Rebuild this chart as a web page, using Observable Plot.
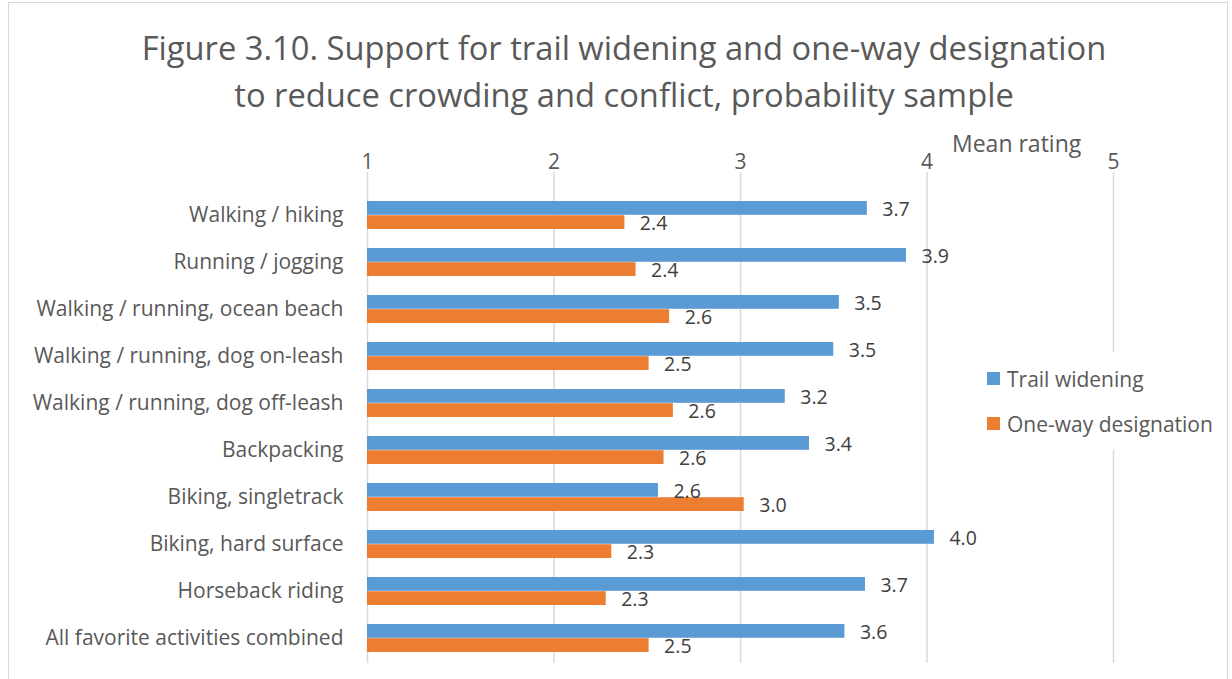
<!DOCTYPE html>
<html>
<head>
<meta charset="utf-8">
<script src="https://cdn.jsdelivr.net/npm/d3@7"></script>
<script src="https://cdn.jsdelivr.net/npm/@observablehq/plot@0.6"></script>
<style>
  body { margin: 0; background: #fff; font-family: "Open Sans", sans-serif; }
  #wrap { position: relative; width: 1232px; height: 679px; overflow: hidden; background: #fff; }
  #frame { position: absolute; left: 8px; top: 2px; width: 1220px; height: 720px; border: 1px solid #d9d9d9; box-sizing: border-box; }
  #title { position: absolute; top: 24px; left: 0; width: 1248px; text-align: center; font-size: 32.7px; line-height: 47px; color: #595959; white-space: nowrap; }
  #chart { position: absolute; top: 100px; left: 0; }
  #xlabel { position: absolute; left: 952px; top: 127px; font-size: 23px; color: #595959; white-space: nowrap; }
  #legend { position: absolute; left: 983px; top: 352px; background: #fff; padding: 4px 4px; font-size: 21px; color: #595959; white-space: nowrap; }
  #legend .item { display: flex; align-items: center; height: 45px; }
  #legend .sw { width: 13px; height: 13px; margin-right: 7px; }
</style>
</head>
<body>
<div id="wrap">
  <div id="frame"></div>
  <div id="title">Figure 3.10. Support for trail widening and one-way designation<br>to reduce crowding and conflict, probability sample</div>
  <div id="chart"></div>
  <div id="xlabel">Mean rating</div>
  <div id="legend"></div>
</div>
<script>
const activities = [
  "Walking / hiking",
  "Running / jogging",
  "Walking / running, ocean beach",
  "Walking / running, dog on-leash",
  "Walking / running, dog off-leash",
  "Backpacking",
  "Biking, singletrack",
  "Biking, hard surface",
  "Horseback riding",
  "All favorite activities combined"
];
const seriesNames = ["Trail widening", "One-way designation"];
const seriesColors = ["#5b9bd5", "#ed7d31"];
const trailWidening = [3.68, 3.89, 3.53, 3.50, 3.24, 3.37, 2.56, 4.04, 3.67, 3.56];
const oneWay = [2.38, 2.44, 2.62, 2.51, 2.64, 2.59, 3.02, 2.31, 2.28, 2.51];
const xTicks = [1, 2, 3, 4, 5];
const baseline = 1;

const blue = activities.map((a, i) => ({activity: a, series: seriesNames[0], value: trailWidening[i]}));
const orange = activities.map((a, i) => ({activity: a, series: seriesNames[1], value: oneWay[i]}));

const chart = Plot.plot({
  width: 1232,
  height: 579,
  marginTop: 72,
  marginBottom: 16,
  marginLeft: 367,
  marginRight: 119,
  style: {fontFamily: "'Open Sans', sans-serif", color: "#595959", background: "transparent", overflow: "visible"},
  x: {domain: [1, 5], axis: null},
  y: {domain: activities, paddingInner: 0.4, paddingOuter: 0.39, align: 0.74, axis: null},
  marks: [
    Plot.ruleX(xTicks, {stroke: "#d9d9d9", strokeWidth: 1.5}),
    Plot.axisX({anchor: "top", ticks: xTicks, tickSize: 0, tickPadding: 4, fontSize: 21, fill: "#595959", label: null, tickFormat: d3.format("d")}),
    Plot.axisY({anchor: "left", tickSize: 0, tickPadding: 24, fontSize: 21, fill: "#595959", label: null}),
    Plot.barX(blue, {y: "activity", x1: baseline, x2: "value", fill: seriesColors[0], insetBottom: 14.2}),
    Plot.barX(orange, {y: "activity", x1: baseline, x2: "value", fill: seriesColors[1], insetTop: 14.2}),
    Plot.text(blue, {y: "activity", x: "value", text: d => d.value.toFixed(1), dx: 15, dy: -6, textAnchor: "start", fontSize: 19.5, fill: "#404040"}),
    Plot.text(orange, {y: "activity", x: "value", text: d => d.value.toFixed(1), dx: 15, dy: 8, textAnchor: "start", fontSize: 19.5, fill: "#404040"})
  ]
});
document.getElementById("chart").appendChild(chart);

const legend = document.getElementById("legend");
seriesNames.forEach((s, i) => {
  const item = document.createElement("div");
  item.className = "item";
  const sw = document.createElement("span");
  sw.className = "sw";
  sw.style.background = seriesColors[i];
  const tx = document.createElement("span");
  tx.textContent = s;
  item.appendChild(sw);
  item.appendChild(tx);
  legend.appendChild(item);
});
</script>
</body>
</html>
